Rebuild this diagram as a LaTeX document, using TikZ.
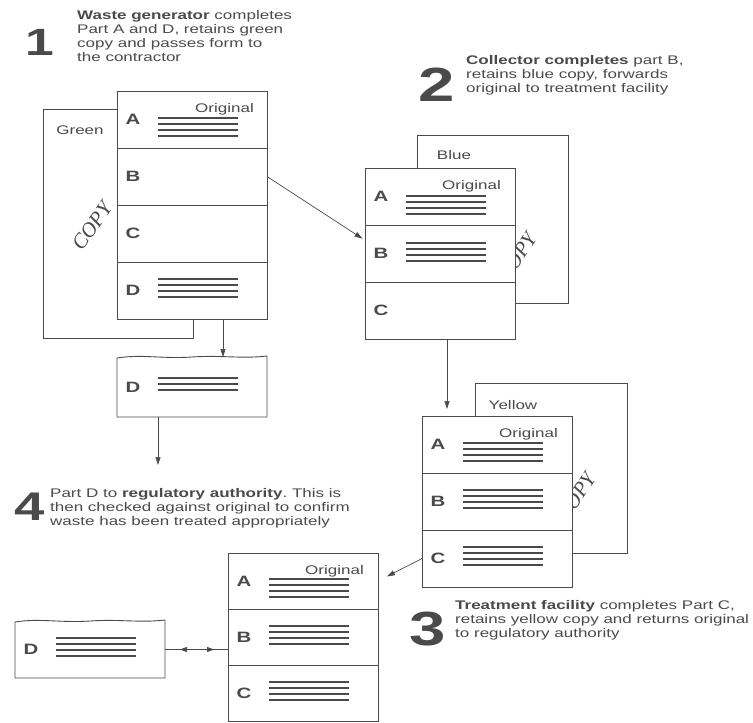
\documentclass[tikz,border=0pt]{standalone}
\usepackage{fontspec}
\setmainfont{Liberation Sans}[FakeStretch=1.36]
\newfontfamily\stampfont{Liberation Serif}
\usetikzlibrary{arrows.meta,calc}
\frenchspacing

\definecolor{ink}{HTML}{4A4A4A}
\definecolor{paper}{HTML}{FFFFFF}

% one part (row) of a consignment form, with its letter
\newcommand\partrow[5][]{%
  \node[partbox,#1] (#2) at (#3,#4) {};
  \node[rowletter] (#2-l) at ($(#2.west)+(16,0)$) {#5};}
% printed entry lines inside a part: row, offset of first line, count
\newcommand\scribbles[3]{%
  \foreach \k in {1,...,#3}{%
    \draw[scrib] ($(#1.north west)+(41,#2+6*\k-6)$) -- ++(80,0);}}
% torn-off slip with a ragged top edge
\newcommand\slipoutline[1]{%
  \draw[sheet] (#1.south west) -- ($(#1.north west)+(0,1)$)
    .. controls ($(#1.north west)+(25,-3)$) and ($(#1.north west)+(45,2)$) .. ($(#1.north west)+(75,0)$)
    .. controls ($(#1.north west)+(105,-2)$) and ($(#1.north west)+(125,2)$) .. ($(#1.north east)+(0,-1)$)
    -- (#1.south east) -- cycle;}

\begin{document}
\begin{tikzpicture}[x=1pt,y=-1pt,
  partbox/.style={draw=ink, line width=0.9pt, fill=paper, minimum width=150pt,
    minimum height=57pt, inner sep=0pt, outer sep=0pt, anchor=north west},
  sheet/.style={draw=ink, line width=0.9pt, fill=paper},
  copybox/.style={sheet, inner sep=0pt, outer sep=0pt, anchor=north west},
  slipbox/.style={inner sep=0pt, outer sep=0pt, anchor=north west,
    minimum width=150pt, minimum height=60pt},
  rowletter/.style={text=ink, inner sep=0pt, font=\bfseries\fontsize{15}{15}\selectfont},
  origlabel/.style={text=ink, inner sep=0pt, anchor=base east, font=\fontsize{12.5}{14}\selectfont},
  copylabel/.style={text=ink, inner sep=0pt, font=\fontsize{12.5}{14}\selectfont},
  stamp/.style={text=ink, inner sep=0pt, font=\stampfont\itshape\fontsize{21}{21}\selectfont},
  note/.style={text=ink, inner sep=0pt, anchor=north west, align=left,
    font=\fontsize{12.5}{14.2}\selectfont},
  bignum/.style={text=ink, inner sep=0pt, font=\bfseries\fontsize{#1}{#1}\selectfont},
  scrib/.style={draw=ink, line width=2.6pt},
  flow/.style={draw=ink, line width=0.7pt, -{Triangle[length=8pt,width=5pt]}},
]
\fill[paper] (0,0) rectangle (753,723);
\useasboundingbox (0,0) rectangle (753,723);

% ---------------- step 1: waste generator ----------------
\node[bignum=38] (n1) at (40,42) {1};
\node[note] (t1) at (77,10) {\textbf{Waste generator} completes\\Part A and D, retains green\\copy and passes form to\\the contractor};

\node[copybox, minimum width=150pt, minimum height=229pt] (g1) at (43,109) {};
\node[copylabel] (g1-l) at (80,130) {Green};
\node[stamp, rotate=55] (g1-s) at (92,226) {COPY};

\partrow{f1a}{117}{91}{A}
\partrow{f1b}{117}{148}{B}
\partrow{f1c}{117}{205}{C}
\partrow{f1d}{117}{262}{D}
\node[origlabel] (f1-o) at ($(f1a.north west)+(137,21)$) {Original};
\scribbles{f1a}{27}{4}
\scribbles{f1d}{17}{4}

% part D is torn off and kept
\node[slipbox] (s1) at (117,357) {};
\slipoutline{s1}
\node[rowletter] (s1-l) at ($(s1.west)+(16,0)$) {D};
\scribbles{s1}{21}{3}

% ---------------- step 2: collector ----------------
\node[bignum=48] (n2) at (437,85) {2};
\node[note] (t2) at (466,55) {\textbf{Collector completes} part B,\\retains blue copy, forwards\\original to treatment facility};

\node[copybox, minimum width=151pt, minimum height=168pt] (g2) at (417,135) {};
\node[copylabel] (g2-l) at (454,155) {Blue};
\node[stamp, rotate=57] (g2-s) at (517,257) {COPY};

\partrow{f2a}{365}{168}{A}
\partrow{f2b}{365}{225}{B}
\partrow{f2c}{365}{282}{C}
\node[origlabel] (f2-o) at ($(f2a.north west)+(136,21)$) {Original};
\scribbles{f2a}{28}{4}
\scribbles{f2b}{18}{4}

% ---------------- step 3: treatment facility ----------------
\node[bignum=48] (n3) at (428,629) {3};
\node[note] (t3) at (455,600) {\textbf{Treatment facility} completes Part C,\\retains yellow copy and returns original\\to regulatory authority};

\node[copybox, minimum width=152pt, minimum height=170pt] (g3) at (475,383) {};
\node[copylabel] (g3-l) at (513,405) {Yellow};
\node[stamp, rotate=57] (g3-s) at (576,497) {COPY};

\partrow{f3a}{422}{416}{A}
\partrow{f3b}{422}{473}{B}
\partrow{f3c}{422}{530}{C}
\node[origlabel] (f3-o) at ($(f3a.north west)+(136,21)$) {Original};
\scribbles{f3a}{27}{4}
\scribbles{f3b}{17}{4}
\scribbles{f3c}{17}{4}

% ---------------- step 4: regulatory authority ----------------
\node[bignum=40] (n4) at (30,507) {4};
\node[note] (t4) at (50,488) {Part D to \textbf{regulatory authority}. This is\\then checked against original to confirm\\waste has been treated appropriately};

\partrow[minimum height=56pt]{f4a}{228}{553}{A}
\partrow[minimum height=56pt]{f4b}{228}{609}{B}
\partrow[minimum height=56pt]{f4c}{228}{665}{C}
\node[origlabel] (f4-o) at ($(f4a.north west)+(136,21)$) {Original};
\scribbles{f4a}{26}{4}
\scribbles{f4b}{17}{4}
\scribbles{f4c}{17}{4}

\node[slipbox, minimum height=57pt] (s2) at (15,621) {};
\slipoutline{s2}
\node[rowletter] (s2-l) at ($(s2.west)+(16,0)$) {D};
\scribbles{s2}{17}{4}

% ---------------- connectors ----------------
\coordinate (d1from) at ($(f1d.south west)+(106,0)$);
\coordinate (d1to) at ($(s1.north west)+(106,0)$);
\draw[flow] (d1from) -- (d1to);

\coordinate (d1out) at ($(s1.south west)+(41,0)$);
\coordinate (d1end) at ($(s1.south west)+(41,48)$);
\draw[flow] (d1out) -- (d1end);

\draw[flow, shorten >=3pt] (f1b.east) -- (f2b.170);

\coordinate (f2out) at ($(f2c.south west)+(82,0)$);
\draw[flow, shorten >=7pt] (f2out) -- (f2out |- f3a.north);

\draw[flow, shorten >=10pt] (f3c.west) -- (f4a.east);

\coordinate (s2mid) at (s2.east);
\draw[draw=ink, line width=0.7pt] (s2mid) -- (s2mid -| f4b.west);
\draw[draw=ink, line width=0.7pt, {Triangle[length=7pt,width=5pt]}-{Triangle[length=7pt,width=5pt]},
  shorten <=15pt, shorten >=14pt] (s2mid) -- (s2mid -| f4b.west);
\end{tikzpicture}
\end{document}
